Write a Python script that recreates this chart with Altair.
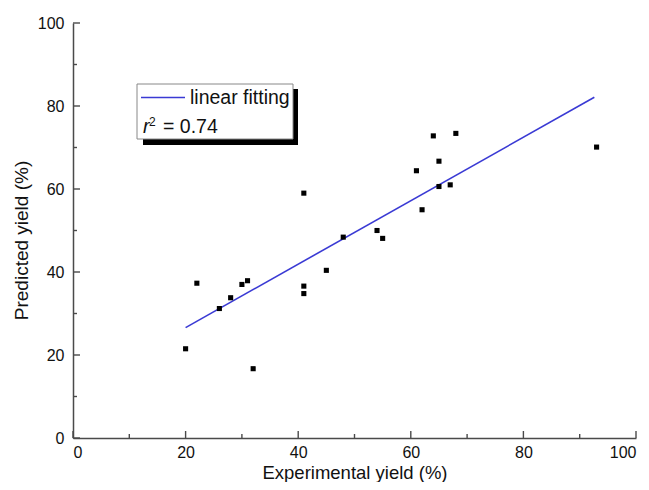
import altair as alt
import pandas as pd

# ---- data ----
exp_yield = [20, 22, 26, 28, 30, 31, 32, 41, 41, 41, 45, 48, 54, 55, 61, 62, 64, 65, 65, 67, 68, 93]
pred_yield = [21.5, 37.3, 31.2, 33.8, 37.0, 37.9, 16.7, 59.0, 36.6, 34.8, 40.4, 48.4, 50.0, 48.1,
              64.4, 55.0, 72.8, 66.7, 60.6, 61.0, 73.4, 70.1]
fit_x = [20, 92.6]
fit_y = [26.6, 82.1]
major_ticks = [0, 20, 40, 60, 80, 100]
minor_ticks = [10, 30, 50, 70, 90]
legend_label = "linear fitting"
r2_text = "= 0.74"

W, H = 563, 415
FONT = "Liberation Sans"
AXIS_COLOR = "#4a4a4a"
LINE_COLOR = "#3a3ad4"

pts = pd.DataFrame({"x": exp_yield, "y": pred_yield})
fit = pd.DataFrame({"x": fit_x, "y": fit_y})
maj = pd.DataFrame({"v": major_ticks})
mnr = pd.DataFrame({"v": minor_ticks})
one = pd.DataFrame({"a": [0]})

xs = alt.Scale(domain=[0, 100], nice=False, zero=False)
ys = alt.Scale(domain=[0, 100], nice=False, zero=False)

xaxis = alt.Axis(values=major_ticks, title="Experimental yield (%)", grid=False, ticks=False,
                 tickSize=0, labelPadding=6, titlePadding=3, titleFontSize=18.5)
yaxis = alt.Axis(values=major_ticks, title="Predicted yield (%)", grid=False, ticks=False,
                 tickSize=0, labelPadding=9, titlePadding=6, titleY=217)

points = alt.Chart(pts).mark_square(size=26, color="black", opacity=1).encode(
    x=alt.X("x:Q", scale=xs, axis=xaxis),
    y=alt.Y("y:Q", scale=ys, axis=yaxis),
)

line = alt.Chart(fit).mark_line(color=LINE_COLOR, strokeWidth=1.6).encode(
    x=alt.X("x:Q", scale=xs), y=alt.Y("y:Q", scale=ys)
)

# inward ticks
def xticks(df, length):
    return alt.Chart(df).mark_rule(color=AXIS_COLOR, strokeWidth=1.4).encode(
        x=alt.X("v:Q", scale=xs), y=alt.value(H), y2=alt.value(H - length))

def yticks(df, length):
    return alt.Chart(df).mark_rule(color=AXIS_COLOR, strokeWidth=1.4).encode(
        y=alt.Y("v:Q", scale=ys), x=alt.value(0), x2=alt.value(length))

ticks = [xticks(maj, 7), xticks(mnr, 4), yticks(maj, 7), yticks(mnr, 4)]

# legend box (pixel offsets inside plot area)
shadow = alt.Chart(one).mark_rect(color="black").encode(
    x=alt.value(70), x2=alt.value(225), y=alt.value(66), y2=alt.value(122))
box = alt.Chart(one).mark_rect(fill="white", stroke="#888888", strokeWidth=1).encode(
    x=alt.value(64), x2=alt.value(220), y=alt.value(61), y2=alt.value(116))
leg_line = alt.Chart(one).mark_rule(color=LINE_COLOR, strokeWidth=1.6).encode(
    x=alt.value(68), x2=alt.value(112), y=alt.value(74.5))
leg_text = alt.Chart(one).mark_text(align="left", baseline="middle", font=FONT, fontSize=19.5,
                                    color="#111111").encode(
    x=alt.value(117), y=alt.value(75), text=alt.value(legend_label))
r_text = alt.Chart(one).mark_text(align="left", baseline="alphabetic", font=FONT, fontSize=19.5,
                                  fontStyle="italic", color="#111111").encode(
    x=alt.value(70), y=alt.value(110), text=alt.value("r"))
sup_text = alt.Chart(one).mark_text(align="left", baseline="alphabetic", font=FONT, fontSize=12,
                                    color="#111111").encode(
    x=alt.value(76), y=alt.value(103), text=alt.value("2"))
eq_text = alt.Chart(one).mark_text(align="left", baseline="alphabetic", font=FONT, fontSize=19.5,
                                   color="#111111").encode(
    x=alt.value(90), y=alt.value(110), text=alt.value(r2_text))

chart = alt.layer(
    line, points, *ticks, shadow, box, leg_line, leg_text, r_text, sup_text, eq_text
).properties(
    width=W, height=H,
    autosize=alt.AutoSizeParams(type="none"),
    padding={"left": 65, "top": 15, "right": 5, "bottom": 44},
).configure_view(stroke=None).configure_axis(
    domainColor=AXIS_COLOR, domainWidth=1.5,
    labelFont=FONT, labelFontSize=16, labelColor="#111111",
    titleFont=FONT, titleFontSize=19, titleFontWeight="normal", titleColor="#111111",
)

chart.save("out.html", embed_options={"renderer": "svg", "actions": False})
